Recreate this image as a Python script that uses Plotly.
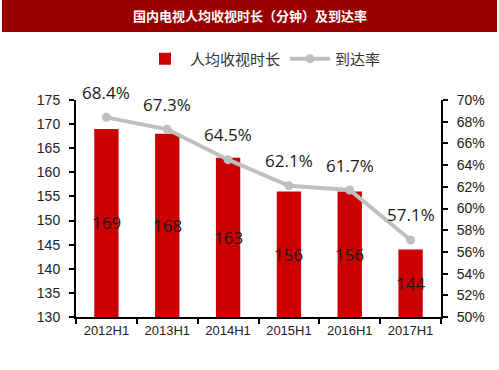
import plotly.graph_objects as go

categories = ["2012H1", "2013H1", "2014H1", "2015H1", "2016H1", "2017H1"]
watch_minutes = [169, 168, 163, 156, 156, 144]
reach_rate = [68.4, 67.3, 64.5, 62.1, 61.7, 57.1]
left_ticks = [130, 135, 140, 145, 150, 155, 160, 165, 170, 175]
right_ticks = [50, 52, 54, 56, 58, 60, 62, 64, 66, 68, 70]

title_text = "国内电视人均收视时长（分钟）及到达率"
bar_name = "人均收视时长"
line_name = "到达率"

W, H = 499, 370
L, R, T, B = 76, 58, 100, 53
pw, ph = W - L - R, H - T - B
BASE = 130

def px_x(x):
    return (x - L) / pw

def px_y(y):
    return (H - B - y) / ph

tick_font = dict(family="Liberation Sans, Arial", size=14, color="#222")
xtick_font = dict(family="Liberation Sans, Arial", size=13, color="#222")
label_font = dict(family="Open Sans, Noto Sans, sans-serif", size=17, color="#1a1a1a")
cjk = "Noto Sans CJK SC, sans-serif"

fig = go.Figure()
fig.add_trace(go.Bar(
    x=categories, y=[v - BASE for v in watch_minutes], base=BASE,
    name=bar_name, marker=dict(color="#CC0000", line=dict(width=0)),
    textposition="none", yaxis="y", width=0.4,
))
fig.add_trace(go.Scatter(
    x=categories, y=reach_rate, name=line_name, yaxis="y2",
    mode="lines+markers", line=dict(color="#BFBFBF", width=4),
    marker=dict(color="#BFBFBF", size=9),
))

annotations = []
for c, v in zip(categories, watch_minutes):
    annotations.append(dict(x=c, y=(BASE + v) / 2, xref="x", yref="y", text=str(v),
                            showarrow=False, font=label_font))
for c, v in zip(categories, reach_rate):
    annotations.append(dict(x=c, y=v, xref="x", yref="y2", text=f"{v:.1f}%",
                            showarrow=False, yshift=25, font=label_font))
annotations.append(dict(x=px_x(250), y=px_y(16), xref="paper", yref="paper",
                        text="<b>" + title_text + "</b>", showarrow=False,
                        font=dict(family=cjk, size=13, color="white"),
                        xanchor="center", yanchor="middle"))

shapes = [dict(type="rect", xref="paper", yref="paper",
               x0=px_x(2), x1=px_x(497), y0=px_y(32), y1=px_y(0),
               fillcolor="#990000", line=dict(width=0), layer="below")]

fig.update_layout(
    width=W, height=H, margin=dict(l=L, r=R, t=T, b=B),
    paper_bgcolor="white", plot_bgcolor="white",
    showlegend=True, bargap=0.6,
    legend=dict(orientation="h", x=px_x(263), y=px_y(59), xanchor="center", yanchor="middle",
                font=dict(family=cjk, size=15, color="#333"), itemwidth=40,
                traceorder="normal", bgcolor="rgba(0,0,0,0)"),
    xaxis=dict(showline=True, linecolor="black", linewidth=2, ticks="outside",
               tickson="boundaries", ticklen=5, tickwidth=2, tickcolor="black",
               tickfont=xtick_font, tickangle=0,
               showgrid=False, zeroline=False),
    yaxis=dict(range=[130, 175], tickvals=left_ticks, showline=True, linecolor="black",
               linewidth=2, ticks="outside", ticklen=5, tickwidth=2, tickcolor="black",
               tickfont=tick_font, showgrid=False, zeroline=False, ticklabelstandoff=6),
    yaxis2=dict(range=[50, 70], tickvals=right_ticks, ticktext=[f"{v}%" for v in right_ticks],
                overlaying="y", side="right", showline=True, linecolor="black", linewidth=2,
                ticks="outside", ticklen=5, tickwidth=2, tickcolor="black",
                tickfont=tick_font, showgrid=False, zeroline=False, ticklabelstandoff=6),
    annotations=annotations, shapes=shapes,
)

fig.write_html("out.html", config={"displayModeBar": False},
               post_script="document.body.style.margin='0';")
